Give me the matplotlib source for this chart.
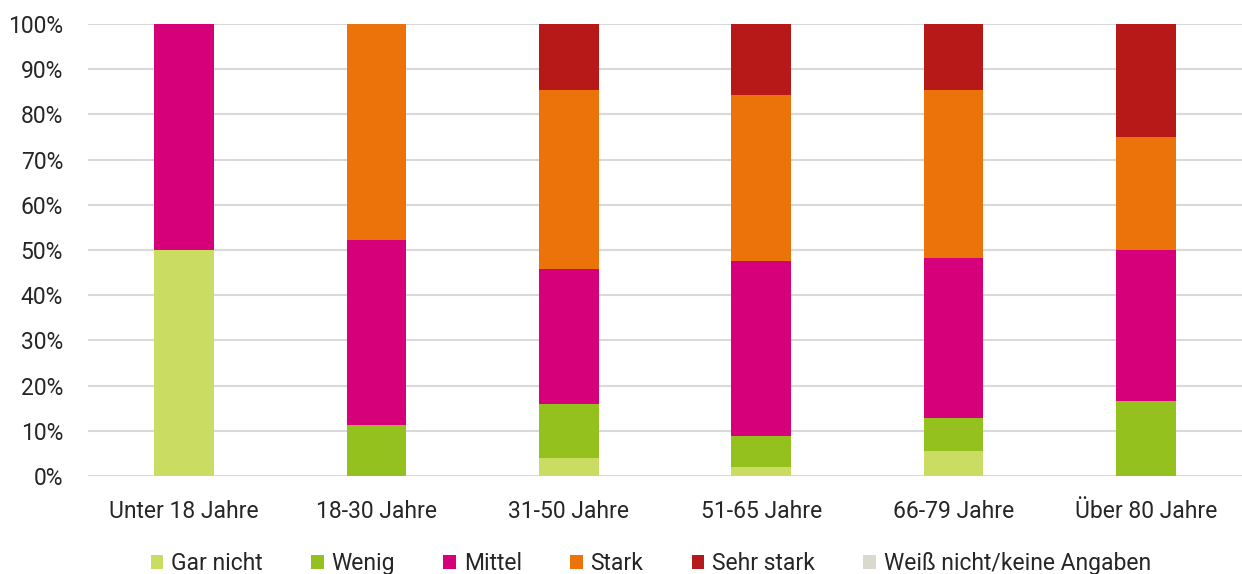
import matplotlib.pyplot as plt
import numpy as np

plt.rcParams['font.family'] = ['Roboto', 'DejaVu Sans']

categories = ['Unter 18 Jahre', '18-30 Jahre', '31-50 Jahre', '51-65 Jahre', '66-79 Jahre', 'Über 80 Jahre']
series_names = ['Gar nicht', 'Wenig', 'Mittel', 'Stark', 'Sehr stark', 'Weiß nicht/keine Angaben']
gar_nicht = [50.0, 0.0, 4.0, 2.0, 5.5, 0.0]
wenig = [0.0, 11.3, 12.0, 6.8, 7.3, 16.6]
mittel = [50.0, 40.9, 29.9, 38.7, 35.4, 33.4]
stark = [0.0, 47.8, 39.6, 36.7, 37.2, 25.0]
sehr_stark = [0.0, 0.0, 14.5, 15.8, 14.6, 25.0]
weiss_nicht = [0.0, 0.0, 0.0, 0.0, 0.0, 0.0]
colors = ['#cadc62', '#95c11f', '#d6007a', '#ec730a', '#b71918', '#d9d9d0']

fig = plt.figure(figsize=(12.42, 5.74), dpi=100)
ax = fig.add_axes([88/1242, 1 - 476/574, 1 - 88/1242, 452/574])

x = np.arange(len(categories))
bottom = np.zeros(len(categories))
for name, vals, c in zip(series_names,
                         [gar_nicht, wenig, mittel, stark, sehr_stark, weiss_nicht],
                         colors):
    ax.bar(x, vals, 0.31, bottom=bottom, color=c, label=name, zorder=3)
    bottom += np.array(vals)

ax.set_xlim(-0.5, len(categories) - 0.5)
ax.set_ylim(0, 100)
ax.set_yticks(np.arange(0, 101, 10))
ax.set_yticklabels([f'{v}%' for v in range(0, 101, 10)])
ax.set_xticks(x)
ax.set_xticklabels(categories)
ax.grid(axis='y', color='#d9d9d9', linewidth=1.5, zorder=0)
for s in ax.spines.values():
    s.set_visible(False)
ax.tick_params(length=0, labelsize=16.5, colors='#262626')
ax.tick_params(axis='x', pad=17)
ax.tick_params(axis='y', pad=18)

fig.legend(loc='center', bbox_to_anchor=(0.524, 0.018), ncol=6, frameon=False,
           fontsize=16.5, handlelength=0.55, handleheight=0.55, handletextpad=0.35,
           columnspacing=2.1, labelcolor='#262626')

fig.savefig('out.png', dpi=100)
